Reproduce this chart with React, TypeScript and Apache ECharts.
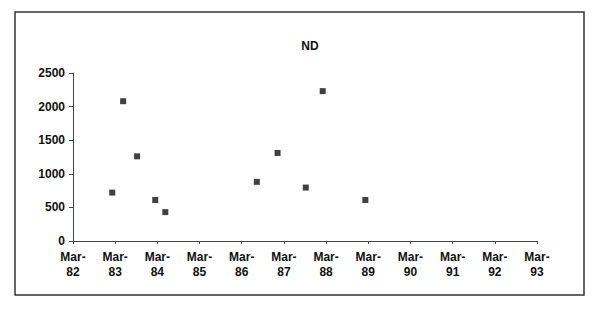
import React, { useEffect, useRef } from "react";
import * as echarts from "echarts";

const title = "ND";
const dates = [
  "1983-02-06", "1983-05-09", "1983-09-08", "1984-02-13", "1984-05-09",
  "1986-07-10", "1987-01-07", "1987-09-08", "1988-02-02", "1989-02-06",
];
const values = [720, 2080, 1260, 610, 430, 880, 1310, 795, 2230, 610];
const startYear = 1982;
const yearLabels = ["82", "83", "84", "85", "86", "87", "88", "89", "90", "91", "92", "93"];

function toOffset(d: string): number {
  const [y, m, day] = d.split("-").map(Number);
  return y - startYear + (m - 3) / 12 + (day - 1) / 365;
}

export default function App() {
  const ref = useRef<HTMLDivElement>(null);
  useEffect(() => {
    document.body.style.margin = "0";
    const chart = echarts.init(ref.current!, null, { renderer: "svg" });
    const font = "'Liberation Sans', Arial, sans-serif";
    chart.setOption({
      animation: false,
      backgroundColor: "#ffffff",
      title: {
        text: title,
        left: 305,
        top: 35,
        textAlign: "center",
        textStyle: { fontFamily: font, fontSize: 12, fontWeight: "bold", color: "#111" },
      },
      graphic: [
        {
          type: "rect",
          shape: { x: 15, y: 12, width: 569, height: 283 },
          style: { fill: "none", stroke: "#333", lineWidth: 1.5 },
        },
      ],
      grid: { left: 73, right: 63, top: 73, bottom: 68, containLabel: false },
      xAxis: {
        type: "value",
        min: 0,
        max: yearLabels.length - 1,
        interval: 1,
        splitLine: { show: false },
        axisLine: { lineStyle: { color: "#444", width: 1 } },
        axisTick: { show: true, length: 3, lineStyle: { color: "#444" } },
        axisLabel: {
          margin: 8,
          fontFamily: font,
          fontSize: 12,
          fontWeight: "bold",
          color: "#111",
          lineHeight: 15,
          formatter: (v: number) => `Mar-\n${yearLabels[Math.round(v)]}`,
        },
      },
      yAxis: {
        type: "value",
        min: 0,
        max: 2500,
        interval: 500,
        splitLine: { show: false },
        axisLine: { show: true, lineStyle: { color: "#444", width: 1 } },
        axisTick: { show: true, length: 4, lineStyle: { color: "#444" } },
        axisLabel: {
          margin: 8,
          fontFamily: font,
          fontSize: 12,
          fontWeight: "bold",
          color: "#111",
          formatter: (v: number) => String(v),
        },
      },
      series: [
        {
          type: "scatter",
          symbol: "rect",
          symbolSize: 6,
          itemStyle: { color: "#111" },
          data: dates.map((d, i) => [toOffset(d), values[i]]),
        },
      ],
    });
    return () => chart.dispose();
  }, []);
  return <div ref={ref} style={{ width: 600, height: 309 }} />;
}
